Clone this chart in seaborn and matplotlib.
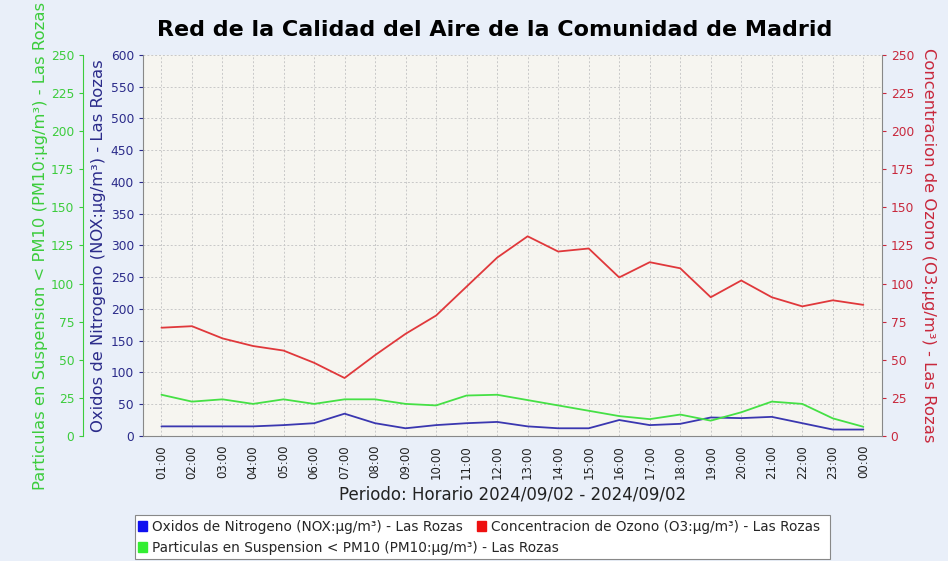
import matplotlib
matplotlib.use("Agg")
import matplotlib.pyplot as plt
import matplotlib.patches as mpatches
import seaborn as sns
import pandas as pd

horas = ['01:00', '02:00', '03:00', '04:00', '05:00', '06:00', '07:00', '08:00',
         '09:00', '10:00', '11:00', '12:00', '13:00', '14:00', '15:00', '16:00',
         '17:00', '18:00', '19:00', '20:00', '21:00', '22:00', '23:00', '00:00']
nox = [15, 15, 15, 15, 17, 20, 35, 20, 12, 17, 20, 22,
       15, 12, 12, 25, 17, 19, 29, 28, 30, 20, 10, 10]
o3 = [71, 72, 64, 59, 56, 48, 38, 53, 67, 79, 98, 117,
      131, 121, 123, 104, 114, 110, 91, 102, 91, 85, 89, 86]
pm10 = [27, 22.5, 24, 21, 24, 21, 24, 24, 21, 20, 26.5, 27,
        23.5, 20, 16.5, 13, 11, 14, 10, 15.5, 22.5, 21, 11.5, 6]

df = pd.DataFrame({'hora': horas, 'NOX': nox, 'O3': o3, 'PM10': pm10})
df['pos'] = range(len(df))

c_nox, c_o3, c_pm = '#3a37b0', '#e0383b', '#45e045'
t_nox, t_o3, t_pm = '#2b2b8a', '#c8283c', '#3ccc3c'
lab_nox = 'Oxidos de Nitrogeno (NOX:µg/m³) - Las Rozas'
lab_o3 = 'Concentracion de Ozono (O3:µg/m³) - Las Rozas'
lab_pm = 'Particulas en Suspension < PM10 (PM10:µg/m³) - Las Rozas'

sns.set_style('white')
plt.rcParams['font.family'] = ['DejaVu Sans']

fig = plt.figure(figsize=(9.48, 5.61), dpi=100, facecolor='#e9eff9')
ax = fig.add_axes([0.151, 0.223, 0.779, 0.679])
ax.set_facecolor('#f6f5f0')

# NOX en el eje principal (izquierda, azul)
sns.lineplot(data=df, x='pos', y='NOX', color=c_nox, lw=1.3, ax=ax, zorder=3)
ax.set_ylim(0, 600)
ax.set_yticks(range(0, 601, 50))
ax.set_xticks(df['pos'])
ax.set_xticklabels(horas, rotation=90, fontsize=8.5)
ax.set_ylabel(lab_nox, color=t_nox, fontsize=11.8, labelpad=3)
ax.set_xlabel('Periodo: Horario 2024/09/02 - 2024/09/02', fontsize=12, labelpad=5, color='#222222')
ax.tick_params(axis='y', colors=t_nox, labelsize=8.8, length=3)
ax.tick_params(axis='x', colors='#222222', labelsize=8.5, length=3)
ax.grid(True, ls=(0, (2, 2)), color='#c8c8c8', lw=0.7)

# O3 a la derecha (rojo)
ax_o3 = ax.twinx()
sns.lineplot(data=df, x='pos', y='O3', color=c_o3, lw=1.3, ax=ax_o3)
ax_o3.set_ylim(0, 250)
ax_o3.set_yticks(range(0, 251, 25))
ax_o3.set_ylabel(lab_o3, color=t_o3, fontsize=11.8, rotation=270, labelpad=16)
ax_o3.tick_params(axis='y', colors=t_o3, labelsize=8.8, length=3)

# PM10 en el eje exterior izquierdo (verde)
ax_pm = ax.twinx()
sns.lineplot(data=df, x='pos', y='PM10', color=c_pm, lw=1.3, ax=ax_pm)
ax_pm.set_ylim(0, 250)
ax_pm.set_yticks(range(0, 251, 25))
ax_pm.spines['left'].set_position(('axes', -0.081))
ax_pm.yaxis.set_ticks_position('left')
ax_pm.yaxis.set_label_position('left')
ax_pm.set_ylabel(lab_pm, color=t_pm, fontsize=11.8, labelpad=2)
ax_pm.tick_params(axis='y', colors=t_pm, labelsize=8.8, length=3)

for a in (ax, ax_o3, ax_pm):
    a.set_xlim(-0.6, 23.6)
    for s in a.spines.values():
        s.set_visible(False)
ax.spines['left'].set_visible(True)
ax.spines['bottom'].set_visible(True)
ax.spines['left'].set_color('#888888')
ax.spines['bottom'].set_color('#888888')
ax_o3.spines['right'].set_visible(True)
ax_o3.spines['right'].set_color('#888888')
ax_pm.spines['left'].set_visible(True)
ax_pm.spines['left'].set_color(t_pm)

fig.suptitle('Red de la Calidad del Aire de la Comunidad de Madrid',
             fontsize=16, fontweight='bold', color='black', x=0.522, y=0.965)

# leyenda: marco + dos filas
fig.patches.append(mpatches.Rectangle((0.1424, 0.0036), 0.733, 0.0784,
                                      transform=fig.transFigure, facecolor='white',
                                      edgecolor='#888888', lw=0.8, zorder=0))
h_nox = mpatches.Patch(color='#1010f0', label=lab_nox)
h_o3 = mpatches.Patch(color='#ee1010', label=lab_o3)
h_pm = mpatches.Patch(color='#33ee33', label=lab_pm)
common = dict(fontsize=9.8, frameon=False, handlelength=0.65, handleheight=0.75,
              handletextpad=0.35, columnspacing=1.1, borderpad=0, borderaxespad=0)
fig.legend(handles=[h_nox, h_o3], ncol=2, loc='center left',
           bbox_to_anchor=(0.1456, 0.0606), **common)
fig.legend(handles=[h_pm], ncol=1, loc='center left',
           bbox_to_anchor=(0.1456, 0.0232), **common)

fig.savefig('out.png', dpi=100, facecolor=fig.get_facecolor())
